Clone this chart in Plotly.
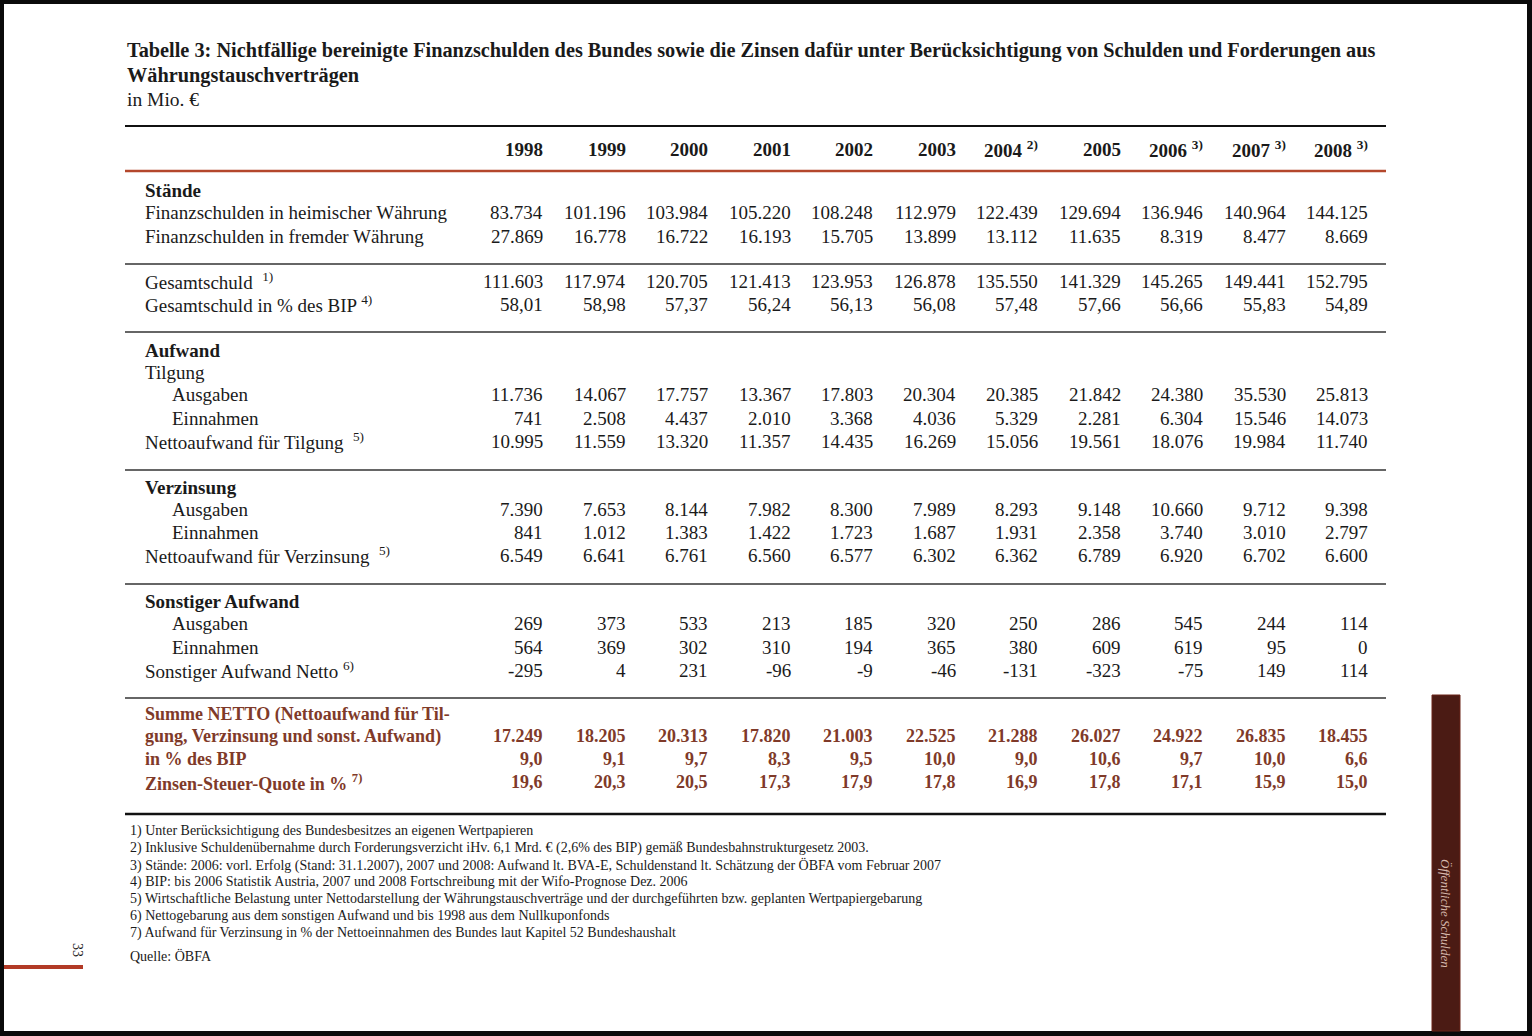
import plotly.graph_objects as go

# ---------------- data ----------------
years = ["1998", "1999", "2000", "2001", "2002", "2003", "2004", "2005", "2006", "2007", "2008"]
year_notes = ["", "", "", "", "", "", "2)", "", "3)", "3)", "3)"]

heimisch = [83734, 101196, 103984, 105220, 108248, 112979, 122439, 129694, 136946, 140964, 144125]
fremd = [27869, 16778, 16722, 16193, 15705, 13899, 13112, 11635, 8319, 8477, 8669]
gesamt = [111603, 117974, 120705, 121413, 123953, 126878, 135550, 141329, 145265, 149441, 152795]
gesamt_bip = [58.01, 58.98, 57.37, 56.24, 56.13, 56.08, 57.48, 57.66, 56.66, 55.83, 54.89]
tilg_aus = [11736, 14067, 17757, 13367, 17803, 20304, 20385, 21842, 24380, 35530, 25813]
tilg_ein = [741, 2508, 4437, 2010, 3368, 4036, 5329, 2281, 6304, 15546, 14073]
tilg_netto = [10995, 11559, 13320, 11357, 14435, 16269, 15056, 19561, 18076, 19984, 11740]
zins_aus = [7390, 7653, 8144, 7982, 8300, 7989, 8293, 9148, 10660, 9712, 9398]
zins_ein = [841, 1012, 1383, 1422, 1723, 1687, 1931, 2358, 3740, 3010, 2797]
zins_netto = [6549, 6641, 6761, 6560, 6577, 6302, 6362, 6789, 6920, 6702, 6600]
sonst_aus = [269, 373, 533, 213, 185, 320, 250, 286, 545, 244, 114]
sonst_ein = [564, 369, 302, 310, 194, 365, 380, 609, 619, 95, 0]
sonst_netto = [-295, 4, 231, -96, -9, -46, -131, -323, -75, 149, 114]
summe = [17249, 18205, 20313, 17820, 21003, 22525, 21288, 26027, 24922, 26835, 18455]
summe_bip = [9.0, 9.1, 9.7, 8.3, 9.5, 10.0, 9.0, 10.6, 9.7, 10.0, 6.6]
zst_quote = [19.6, 20.3, 20.5, 17.3, 17.9, 17.8, 16.9, 17.8, 17.1, 15.9, 15.0]

title_lines = [
    "Tabelle 3: Nichtfällige bereinigte Finanzschulden des Bundes sowie die Zinsen dafür unter Berücksichtigung von Schulden und Forderungen aus",
    "Währungstauschverträgen",
]
unit = "in Mio. €"
footnotes = [
    "1) Unter Berücksichtigung des Bundesbesitzes an eigenen Wertpapieren",
    "2) Inklusive Schuldenübernahme durch Forderungsverzicht iHv. 6,1 Mrd. € (2,6% des BIP) gemäß Bundesbahnstrukturgesetz 2003.",
    "3) Stände: 2006: vorl. Erfolg (Stand: 31.1.2007), 2007 und 2008: Aufwand lt. BVA-E, Schuldenstand lt. Schätzung der ÖBFA vom Februar 2007",
    "4) BIP: bis 2006 Statistik Austria, 2007 und 2008 Fortschreibung mit der Wifo-Prognose Dez. 2006",
    "5) Wirtschaftliche Belastung unter Nettodarstellung der Währungstauschverträge und der durchgeführten bzw. geplanten Wertpapiergebarung",
    "6) Nettogebarung aus dem sonstigen Aufwand und bis 1998 aus dem Nullkuponfonds",
    "7) Aufwand für Verzinsung in % der Nettoeinnahmen des Bundes laut Kapitel 52 Bundeshaushalt",
]
source = "Quelle: ÖBFA"
side_text = "Öffentliche Schulden"
page_no = "33"


def de_int(v):
    s = f"{abs(v):,}".replace(",", ".")
    return ("-" if v < 0 else "") + s


def de_dec(v, d):
    return f"{v:.{d}f}".replace(".", ",")


# ---------------- layout params ----------------
W, H = 1532, 1036
SERIF = "Liberation Serif"
BLACK = "#1a1a1a"
BROWN = "#7f3a29"
RED = "#b4472c"
col0, colstep = 545, 82.5
col_right = [col0 + i * colstep for i in range(len(years))]
x_lab, x_sub = 143, 170
x_left, x_right = 125, 1386
FS = 19

fig = go.Figure()
fig.add_trace(go.Scatter(x=[0, W], y=[0, H], mode="markers", marker=dict(opacity=0), hoverinfo="skip", showlegend=False))

ann = []
shapes = []


def txt(x, y, t, size=FS, bold=False, color=BLACK, anchor="left", angle=0, italic=False, family=SERIF):
    if bold:
        t = f"<b>{t}</b>"
    if italic:
        t = f"<i>{t}</i>"
    ann.append(dict(x=x, y=y, xref="x", yref="y", text=t, showarrow=False, xanchor=anchor, yanchor="middle",
                    textangle=angle, font=dict(family=family, size=size, color=color)))


def hline(y, width=1.5, color="#333333"):
    shapes.append(dict(type="line", xref="x", yref="y", x0=x_left, x1=x_right, y0=y, y1=y,
                       line=dict(color=color, width=width)))


# page frame
shapes.append(dict(type="rect", xref="x", yref="y", x0=4, x1=1527, y0=4, y1=1031, fillcolor="white", line=dict(width=0), layer="below"))

# title
txt(125, 50, title_lines[0], size=20.3, bold=True)
txt(125, 75, title_lines[1], size=20.3, bold=True)
txt(125, 99, unit, size=19.5)

hline(126, width=2.2, color="#111111")
for i, yv in enumerate(years):
    lab = yv if not year_notes[i] else f"{yv} <sup>{year_notes[i]}</sup>"
    txt(col_right[i], 149, lab, bold=True, anchor="right")
hline(171, width=2.5, color=RED)


def row(y, label, values, fmt, x=x_lab, bold=False, color=BLACK, size=FS):
    if label:
        txt(x, y, label, bold=bold, color=color, size=size)
    if values is not None:
        for i, v in enumerate(values):
            txt(col_right[i], y, fmt(v), bold=bold, color=color, size=size, anchor="right")


row(190, "Stände", None, None, bold=True)
row(212, "Finanzschulden in heimischer Währung", heimisch, de_int)
row(236, "Finanzschulden in fremder Währung", fremd, de_int)
hline(264)
row(281, "Gesamtschuld  <sup>1)</sup>", gesamt, de_int)
row(304, "Gesamtschuld in % des BIP <sup>4)</sup>", gesamt_bip, lambda v: de_dec(v, 2))
hline(332)
row(350, "Aufwand", None, None, bold=True)
row(372, "Tilgung", None, None)
row(394, "Ausgaben", tilg_aus, de_int, x=x_sub)
row(418, "Einnahmen", tilg_ein, de_int, x=x_sub)
row(441, "Nettoaufwand für Tilgung  <sup>5)</sup>", tilg_netto, de_int)
hline(470)
row(487, "Verzinsung", None, None, bold=True)
row(509, "Ausgaben", zins_aus, de_int, x=x_sub)
row(532, "Einnahmen", zins_ein, de_int, x=x_sub)
row(555, "Nettoaufwand für Verzinsung  <sup>5)</sup>", zins_netto, de_int)
hline(584)
row(601, "Sonstiger Aufwand", None, None, bold=True)
row(623, "Ausgaben", sonst_aus, de_int, x=x_sub)
row(647, "Einnahmen", sonst_ein, de_int, x=x_sub)
row(670, "Sonstiger Aufwand Netto <sup>6)</sup>", sonst_netto, de_int)
hline(698)
SFS = 18
row(714, "Summe NETTO (Nettoaufwand für Til-", None, None, bold=True, color=BROWN, size=SFS)
row(736, "gung, Verzinsung und sonst. Aufwand)", summe, de_int, bold=True, color=BROWN, size=SFS)
row(759, "in % des BIP", summe_bip, lambda v: de_dec(v, 1), bold=True, color=BROWN, size=SFS)
row(782, "Zinsen-Steuer-Quote in % <sup>7)</sup>", zst_quote, lambda v: de_dec(v, 1), bold=True, color=BROWN, size=SFS)
hline(814, width=2.5, color="#111111")

for k, f in enumerate(footnotes):
    txt(128, 831 + k * 17, f, size=14)
txt(128, 956, source, size=14)

# page number + red marker
txt(78, 950, page_no, size=14, angle=90, anchor="center")
shapes.append(dict(type="rect", xref="x", yref="y", x0=4, x1=83, y0=965, y1=969, fillcolor="#b23a26", line=dict(width=0)))

# side bar
shapes.append(dict(type="rect", xref="x", yref="y", x0=1432, x1=1460, y0=695, y1=1031, fillcolor="#4b1b14", line=dict(color="#6b2418", width=1)))
txt(1446, 913, side_text, size=13, angle=90, italic=True, color="#d8b9ad", anchor="center")

fig.update_layout(
    width=W, height=H,
    margin=dict(l=0, r=0, t=0, b=0),
    paper_bgcolor="#0a0a0a", plot_bgcolor="#0a0a0a",
    xaxis=dict(range=[0, W], visible=False, fixedrange=True),
    yaxis=dict(range=[H, 0], visible=False, fixedrange=True),
    annotations=ann, shapes=shapes, showlegend=False,
)
fig.write_html("out.html", config={"displayModeBar": False},
               post_script="document.body.style.margin='0';document.body.style.overflow='hidden';")
